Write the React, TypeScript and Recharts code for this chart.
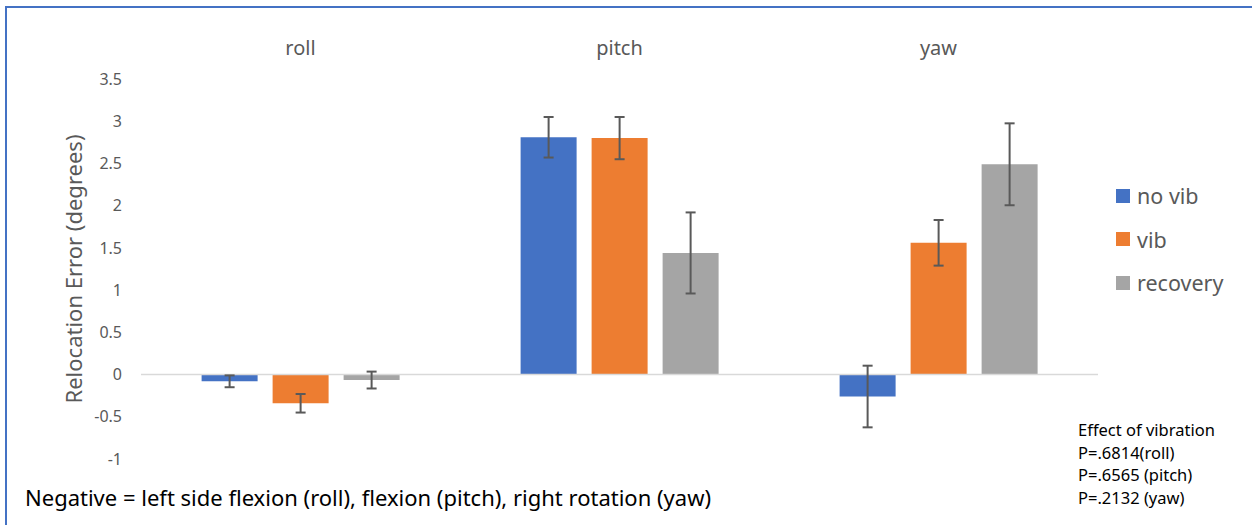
import { Bar, BarChart, ErrorBar, Legend, ReferenceLine, XAxis, YAxis } from 'recharts';

// Mean relocation error per rotation axis, with error bar half-widths
const AXES = ['roll', 'pitch', 'yaw'];
const SERIES = ['no vib', 'vib', 'recovery'];
const NO_VIB = [-0.08, 2.81, -0.26];
const NO_VIB_ERR = [0.07, 0.24, 0.365];
const VIB = [-0.34, 2.8, 1.56];
const VIB_ERR = [0.11, 0.25, 0.27];
const RECOVERY = [-0.065, 1.44, 2.49];
const RECOVERY_ERR = [0.1, 0.48, 0.485];
const Y_TICKS = [-1, -0.5, 0, 0.5, 1, 1.5, 2, 2.5, 3, 3.5];
const P_VALUES = ['P=.6814(roll)', 'P=.6565 (pitch)', 'P=.2132 (yaw)'];

const FONT = "'Noto Sans', sans-serif";
const TEXT = '#595959';
const FRAME = '#4472C4';

const data = AXES.map((axis, i) => ({
  axis,
  noVib: NO_VIB[i],
  noVibErr: NO_VIB_ERR[i],
  vib: VIB[i],
  vibErr: VIB_ERR[i],
  recovery: RECOVERY[i],
  recoveryErr: RECOVERY_ERR[i],
}));

function LegendList({ payload }: { payload?: any[] }) {
  // keep series order instead of the default alphabetical sort
  const items = [...(payload ?? [])].sort((a, b) => SERIES.indexOf(a.value) - SERIES.indexOf(b.value));
  return (
    <div style={{ fontFamily: FONT, fontSize: 21.5, color: TEXT }}>
      {items.map((p) => (
        <div key={p.value} style={{ display: 'flex', alignItems: 'center', height: 43.5 }}>
          <span style={{ width: 14, height: 14, background: p.color, marginRight: 7, display: 'inline-block' }} />
          <span>{p.value}</span>
        </div>
      ))}
    </div>
  );
}

function AxisTitle({ viewBox }: any) {
  const cx = viewBox.x - 28;
  const cy = viewBox.y + viewBox.height / 2;
  return (
    <text
      x={cx}
      y={cy}
      transform={`rotate(-90, ${cx}, ${cy})`}
      textAnchor="middle"
      dominantBaseline="central"
      fill={TEXT}
      fontSize={22}
      fontFamily={FONT}
    >
      Relocation Error (degrees)
    </text>
  );
}

export default function App() {
  return (
    <div style={{ position: 'absolute', left: 0, top: 0, width: 1252, height: 525, background: '#fff', fontFamily: FONT }}>
      {/* frame: top and left edges only */}
      <div style={{ position: 'absolute', left: 5, top: 6, width: 1247, height: 2, background: FRAME }} />
      <div style={{ position: 'absolute', left: 5, top: 6, width: 2, height: 519, background: FRAME }} />
      <BarChart
        width={1252}
        height={525}
        data={data}
        margin={{ top: 39, right: 154, bottom: 66, left: 101 }}
        barCategoryGap="19%"
        barGap={15}
      >
        <XAxis
          dataKey="axis"
          orientation="top"
          height={40}
          axisLine={false}
          tickLine={false}
          tickSize={0}
          tickMargin={24}
          tick={{ fill: TEXT, fontSize: 20, fontFamily: FONT }}
        />
        <YAxis
          width={40}
          domain={[-1, 3.5]}
          ticks={Y_TICKS}
          interval={0}
          axisLine={false}
          tickLine={false}
          tickSize={0}
          tickMargin={19}
          tick={{ fill: TEXT, fontSize: 16, fontFamily: FONT }}
          label={{ content: AxisTitle }}
        />
        <ReferenceLine y={0} stroke="#D9D9D9" strokeWidth={1.5} />
        <Legend
          layout="vertical"
          align="center"
          verticalAlign="middle"
          wrapperStyle={{ left: 1116, top: 174, width: 'auto' }}
          content={<LegendList />}
        />
        <Bar dataKey="noVib" name={SERIES[0]} fill="#4472C4" isAnimationActive={false}>
          <ErrorBar dataKey="noVibErr" width={5} stroke="#595959" strokeWidth={2} />
        </Bar>
        <Bar dataKey="vib" name={SERIES[1]} fill="#ED7D31" isAnimationActive={false}>
          <ErrorBar dataKey="vibErr" width={5} stroke="#595959" strokeWidth={2} />
        </Bar>
        <Bar dataKey="recovery" name={SERIES[2]} fill="#A5A5A5" isAnimationActive={false}>
          <ErrorBar dataKey="recoveryErr" width={5} stroke="#595959" strokeWidth={2} />
        </Bar>
      </BarChart>
      <div style={{ position: 'absolute', left: 25, top: 482, fontSize: 22, color: '#000', whiteSpace: 'nowrap' }}>
        Negative = left side flexion (roll), flexion (pitch), right rotation (yaw)
      </div>
      <div style={{ position: 'absolute', left: 1078, top: 419, fontSize: 16.5, lineHeight: '22.5px', color: '#000' }}>
        <div>Effect of vibration</div>
        {P_VALUES.map((p) => (
          <div key={p}>{p}</div>
        ))}
      </div>
    </div>
  );
}
